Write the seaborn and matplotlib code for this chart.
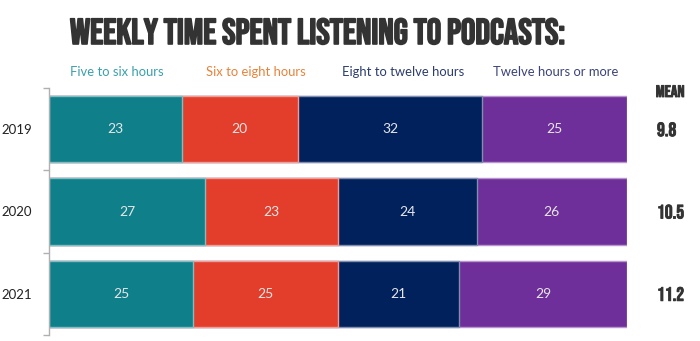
import numpy as np
import pandas as pd
import matplotlib
matplotlib.use("Agg")
import matplotlib.pyplot as plt
import matplotlib.patheffects as pe
import seaborn as sns
from matplotlib.ticker import FixedLocator

years = ["2019", "2020", "2021"]
categories = ["Five to six hours", "Six to eight hours", "Eight to twelve hours", "Twelve hours or more"]
five_to_six = [23, 27, 25]
six_to_eight = [20, 23, 25]
eight_to_twelve = [32, 24, 21]
twelve_plus = [25, 26, 29]
means = ["9.8", "10.5", "11.2"]

bar_colors = ["#0f7f8a", "#e33d2b", "#00215c", "#6f2f9b"]
edge_colors = ["#7fbfc4", "#f19d93", "#7f8fad", "#b795cd"]
legend_colors = ["#3aa0aa", "#e8823a", "#2c3d6e", "#3c4479"]

sns.set_theme(style="white")
plt.rcParams["font.family"] = ["Lato", "DejaVu Sans"]

series = [five_to_six, six_to_eight, eight_to_twelve, twelve_plus]
df = pd.DataFrame({"year": years})
for name, vals in zip(categories, series):
    df[name] = vals
cum = df[categories].cumsum(axis=1)

fig = plt.figure(figsize=(7, 3.41), dpi=100)
ax = fig.add_axes([0.07, 1 - 335 / 341, 0.8257, (335 - 88) / 341])

# Stacked bars: draw cumulative totals from the outermost segment inward
for i in reversed(range(len(categories))):
    sns.barplot(x=cum[categories[i]], y=df["year"], orient="h", ax=ax,
                color=bar_colors[i], edgecolor=edge_colors[i], linewidth=1,
                width=0.805, saturation=1)

# Segment value labels
for r in range(len(years)):
    left = 0
    for i, name in enumerate(categories):
        v = df.loc[r, name]
        ax.text(left + v / 2, r, str(v), ha="center", va="center",
                color="#e6e6e6", fontsize=10)
        left += v

ax.set_xlim(0, 100)
ax.set_ylim(2.5, -0.5)
ax.set_xlabel("")
ax.set_ylabel("")
ax.set_xticks([])
for s in ["top", "right", "bottom"]:
    ax.spines[s].set_visible(False)
ax.spines["left"].set_color("#b0b0b0")
ax.spines["left"].set_linewidth(1)
ax.yaxis.set_minor_locator(FixedLocator([-0.5, 0.5, 1.5, 2.5]))
ax.tick_params(axis="y", which="minor", left=True, length=4, width=1, color="#b0b0b0")
ax.tick_params(axis="y", which="major", left=False, length=0, pad=12,
               labelsize=9.5, labelcolor="#222222")

# Title
fig.text(70 / 700, 1 - 31 / 341, "WEEKLY TIME SPENT LISTENING TO PODCASTS:",
         ha="left", va="center", fontsize=26, family=["Bebas Neue"], color="#333333",
         path_effects=[pe.withStroke(linewidth=1.2, foreground="#333333")])

# Category legend as coloured text
legend_x = [117, 256, 403, 556]
for name, xc, col in zip(categories, legend_x, legend_colors):
    fig.text(xc / 700, 1 - 72 / 341, name, ha="center", va="center",
             fontsize=9.4, color=col)

# Mean column
fig.text(670 / 700, 1 - 91 / 341, "MEAN", ha="center", va="center",
         fontsize=12, family=["Bebas Neue"], color="#333333",
         path_effects=[pe.withStroke(linewidth=0.6, foreground="#333333")])
for r, m in enumerate(means):
    ax.text(1.052, r, m, transform=ax.get_yaxis_transform(), ha="left", va="center",
            fontsize=14, family=["Bebas Neue"], color="#333333",
            path_effects=[pe.withStroke(linewidth=0.6, foreground="#333333")])

fig.savefig("out.png", dpi=100)
